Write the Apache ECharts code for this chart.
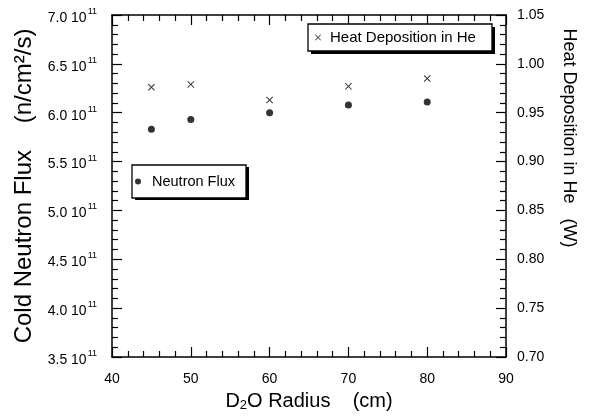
<!DOCTYPE html>
<html>
<head>
<meta charset="utf-8">
<script src="https://cdn.jsdelivr.net/npm/echarts@6/dist/echarts.min.js"></script>
<style>
  html, body { margin: 0; padding: 0; background: #fff; }
  #chart { width: 589px; height: 417px; }
</style>
</head>
<body>
<div id="chart"></div>
<script>
// D2O radius (cm)
var radius = [45, 50, 60, 70, 80]
// cold neutron flux (n/cm2/s)
var neutronFlux = [5.83e11, 5.93e11, 6.00e11, 6.08e11, 6.11e11]
// heat deposition in He (W)
var heatDeposition = [0.976, 0.979, 0.963, 0.977, 0.985]

var FONT = 'Liberation Sans, Arial, Helvetica, sans-serif'
var crossPath = 'path://M0,1L1,0L5,4L9,0L10,1L6,5L10,9L9,10L5,6L1,10L0,9L4,5Z'

var chart = echarts.init(document.getElementById('chart'))

var fluxPts = radius.map(function (r, i) { return [r, neutronFlux[i]] })
var heatPts = radius.map(function (r, i) { return [r, heatDeposition[i]] })

var tickStyle = { show: true, inside: true, length: 10, lineStyle: { color: '#000', width: 1.2 } }
var minorStyle = { show: true, splitNumber: 5, length: 6, lineStyle: { color: '#000', width: 1.2 } }
var lineStyle = { show: true, onZero: false, lineStyle: { color: '#000', width: 1.5 } }

// legend boxes (drop shadow is drawn as a black rect behind them)
var fluxBox = { left: 132, top: 165, w: 114, h: 33 }
var heatBox = { left: 308, top: 24, w: 184, h: 27 }

var option = {
  backgroundColor: '#fff',
  animation: false,
  textStyle: { fontFamily: FONT, color: '#000' },
  grid: { left: 112, right: 83, top: 15, bottom: 54 },
  legend: [
    {
      data: ['Neutron Flux'],
      left: fluxBox.left, top: fluxBox.top,
      icon: 'circle',
      itemWidth: 6, itemHeight: 6,
      padding: [9, 11, 9, 3],
      backgroundColor: '#fff',
      borderColor: '#000', borderWidth: 1.3,
      textStyle: { fontFamily: FONT, fontSize: 14.5, color: '#000', lineHeight: 15, width: 83, padding: [0, 0, 0, 6] }
    },
    {
      data: ['Heat Deposition in He'],
      left: heatBox.left, top: heatBox.top,
      icon: crossPath,
      itemWidth: 6, itemHeight: 6,
      padding: [6, 12, 6, 7],
      backgroundColor: '#fff',
      borderColor: '#000', borderWidth: 1.3,
      textStyle: { fontFamily: FONT, fontSize: 15, color: '#000', lineHeight: 15, width: 150, padding: [0, 0, 0, 4] }
    }
  ],
  xAxis: [
    {
      type: 'value', min: 40, max: 90, interval: 10,
      position: 'bottom',
      axisLine: lineStyle, axisTick: tickStyle, minorTick: minorStyle,
      splitLine: { show: false },
      axisLabel: { fontFamily: FONT, fontSize: 14, color: '#000', margin: 15 },
      name: '{t|D}{s|2}{t|O Radius    (cm)}',
      nameLocation: 'middle', nameGap: 33,
      nameTextStyle: {
        rich: {
          t: { fontFamily: FONT, fontSize: 20, color: '#000' },
          s: { fontFamily: FONT, fontSize: 13, color: '#000', padding: [9, 0, 0, 0] }
        }
      }
    },
    {
      type: 'value', min: 40, max: 90, interval: 10,
      position: 'top',
      axisLine: lineStyle, axisTick: tickStyle, minorTick: minorStyle,
      splitLine: { show: false },
      axisLabel: { show: false }
    }
  ],
  yAxis: [
    {
      type: 'value', min: 3.5e11, max: 7.0e11, interval: 0.5e11,
      position: 'left',
      axisLine: lineStyle, axisTick: tickStyle, minorTick: minorStyle,
      splitLine: { show: false },
      axisLabel: {
        margin: 15,
        formatter: function (v) {
          return '{n|' + (v / 1e11).toFixed(1) + ' 10}{e|11}'
        },
        rich: {
          n: { fontFamily: FONT, fontSize: 14, color: '#000', lineHeight: 20, verticalAlign: 'bottom' },
          e: { fontFamily: FONT, fontSize: 9, color: '#000', lineHeight: 20, verticalAlign: 'top', padding: [2, 0, 0, 1] }
        }
      },
      name: 'Cold Neutron Flux    (n/cm\u00b2/s)',
      nameLocation: 'middle', nameGap: 76, nameRotate: 90,
      nameTextStyle: { fontFamily: FONT, fontSize: 24, color: '#000' }
    },
    {
      type: 'value', min: 0.70, max: 1.05, interval: 0.05,
      position: 'right',
      axisLine: lineStyle, axisTick: tickStyle, minorTick: minorStyle,
      splitLine: { show: false },
      axisLabel: {
        fontFamily: FONT, fontSize: 14, color: '#000', margin: 11,
        formatter: function (v) { return v.toFixed(2) }
      }
    }
  ],
  graphic: [
    {
      type: 'rect', z: 1,
      shape: { x: fluxBox.left + 3, y: fluxBox.top + 2, width: fluxBox.w, height: fluxBox.h },
      style: { fill: '#000' }
    },
    {
      type: 'rect', z: 1,
      shape: { x: heatBox.left + 3, y: heatBox.top + 3, width: heatBox.w, height: heatBox.h },
      style: { fill: '#000' }
    },
    {
      type: 'text',
      x: 569, y: 138,
      rotation: -Math.PI / 2,
      style: {
        text: 'Heat Deposition in He   (W)',
        font: '18px ' + FONT,
        fill: '#000',
        align: 'center',
        verticalAlign: 'middle'
      }
    }
  ],
  series: [
    {
      name: 'Neutron Flux',
      type: 'scatter',
      xAxisIndex: 0, yAxisIndex: 0,
      symbol: 'circle', symbolSize: 7,
      itemStyle: { color: '#000' },
      data: fluxPts
    },
    {
      name: 'Heat Deposition in He',
      type: 'scatter',
      xAxisIndex: 0, yAxisIndex: 1,
      symbol: crossPath, symbolSize: 7,
      itemStyle: { color: '#000' },
      data: heatPts
    }
  ]
}

chart.setOption(option)
</script>
</body>
</html>
